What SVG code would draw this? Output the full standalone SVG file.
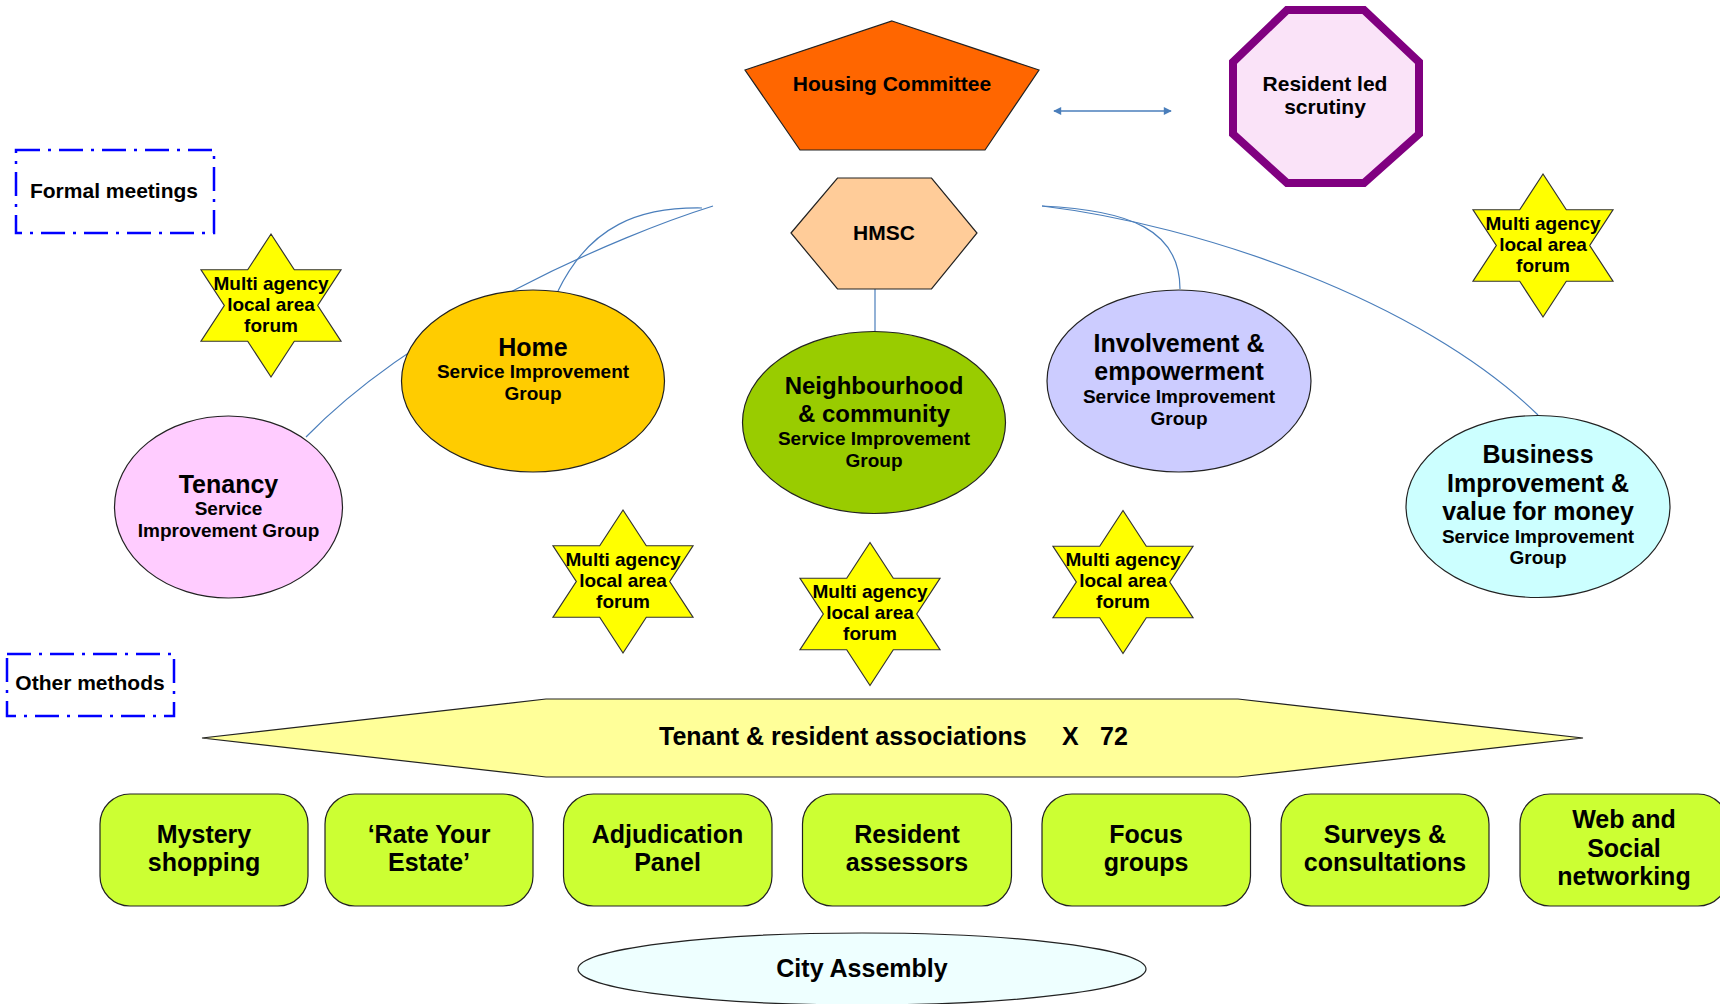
<svg xmlns="http://www.w3.org/2000/svg" xmlns:xlink="http://www.w3.org/1999/xlink" width="1720" height="1004" viewBox="0 0 1720 1004">
<style>
text{font-family:"Liberation Sans",Arial,sans-serif;font-weight:bold;fill:#000;text-anchor:middle}
.h{font-size:25px}
.s{font-size:19px}
.m{font-size:21px}
.b{font-size:25px}
.st{font-size:19px}
.node{stroke:#222;stroke-width:1.2}
.conn{fill:none;stroke:#4a7ebb;stroke-width:1.2}
.legend{fill:none;stroke:#0000ff;stroke-width:2.5;stroke-dasharray:24 8 3 8}
.star{fill:#ffff00;stroke:#333;stroke-width:1.2}
.box{fill:#ccff33;stroke:#222;stroke-width:1.2}
</style>
<defs>
<polygon id="hexagram" points="0,-71.5 23.3,-35.75 70,-35.75 46.7,0 70,35.75 23.3,35.75 0,71.5 -23.3,35.75 -70,35.75 -46.7,0 -70,-35.75 -23.3,-35.75"/>
<marker id="ah" viewBox="0 0 10 10" refX="9" refY="5" markerWidth="9" markerHeight="8" markerUnits="userSpaceOnUse" orient="auto-start-reverse">
<path d="M0,0 L10,5 L0,10 z" fill="#4a7ebb"/>
</marker>
</defs>
<rect width="1720" height="1004" fill="#fff"/>

<g id="connectors">
<path class="conn" d="M713,206 C620,235 420,320 306,437"/>
<path class="conn" d="M702,208 C640,207 590,225 558,291"/>
<path class="conn" d="M875,289 L875,332"/>
<path class="conn" d="M1042,206 C1130,210 1180,230 1180,289"/>
<path class="conn" d="M1042,206 C1200,225 1420,300 1538,415"/>
<path class="conn" style="stroke-width:1.6" d="M1054,111 L1171,111" marker-start="url(#ah)" marker-end="url(#ah)"/>
</g>

<g id="legend-formal">
<rect class="legend" x="16" y="150" width="198" height="83"/>
<text class="m" x="114" y="198">Formal meetings</text>
</g>
<g id="legend-other">
<rect class="legend" x="7" y="654" width="167" height="62"/>
<text class="m" x="90" y="690">Other methods</text>
</g>

<g id="housing-committee">
<polygon class="node" fill="#ff6600" points="892,21 1039,70 985,150 800,150 745,70"/>
<text class="m" x="892" y="91">Housing Committee</text>
</g>

<g id="resident-led-scrutiny">
<polygon fill="#fae3f8" stroke="#800080" stroke-width="8" points="1287,10 1364,10 1419,62 1419,134 1364,183 1287,183 1233,134 1233,62"/>
<text class="m" x="1325" y="91">Resident led</text>
<text class="m" x="1325" y="114">scrutiny</text>
</g>

<g id="hmsc">
<polygon class="node" fill="#ffcc99" points="791,233 837.5,178 931.5,178 977,233 931.5,289 837.5,289"/>
<text class="m" x="884" y="240">HMSC</text>
</g>

<g id="tenancy">
<ellipse class="node" fill="#ffccff" cx="228.5" cy="507" rx="114" ry="91"/>
<text class="h" x="228.5" y="493">Tenancy</text>
<text class="s" x="228.5" y="515">Service</text>
<text class="s" x="228.5" y="537">Improvement Group</text>
</g>

<g id="home">
<ellipse class="node" fill="#ffcc00" cx="533" cy="381" rx="131.5" ry="91"/>
<text class="h" x="533" y="356">Home</text>
<text class="s" x="533" y="378">Service Improvement</text>
<text class="s" x="533" y="400">Group</text>
</g>

<g id="neighbourhood">
<ellipse class="node" fill="#99cc00" cx="874" cy="422.5" rx="131.5" ry="91"/>
<text class="h" style="font-size:24px" x="874" y="394">Neighbourhood</text>
<text class="h" style="font-size:24px" x="874" y="422">&amp; community</text>
<text class="s" x="874" y="445">Service Improvement</text>
<text class="s" x="874" y="467">Group</text>
</g>

<g id="involvement">
<ellipse class="node" fill="#ccccff" cx="1179" cy="381" rx="132" ry="91"/>
<text class="h" x="1179" y="352">Involvement &amp;</text>
<text class="h" x="1179" y="380">empowerment</text>
<text class="s" x="1179" y="403">Service Improvement</text>
<text class="s" x="1179" y="425">Group</text>
</g>

<g id="business">
<ellipse class="node" fill="#ccffff" cx="1538" cy="506.5" rx="132" ry="91"/>
<text class="h" x="1538" y="463">Business</text>
<text class="h" x="1538" y="492">Improvement &amp;</text>
<text class="h" x="1538" y="520">value for money</text>
<text class="s" x="1538" y="543">Service Improvement</text>
<text class="s" x="1538" y="564">Group</text>
</g>

<g id="forum-1">
<use xlink:href="#hexagram" href="#hexagram" class="star" x="271" y="305.5"/>
<text class="st" x="271" y="289.5">Multi agency</text>
<text class="st" x="271" y="310.5">local area</text>
<text class="st" x="271" y="331.5">forum</text>
</g>
<g id="forum-2">
<use xlink:href="#hexagram" href="#hexagram" class="star" x="1543" y="245.5"/>
<text class="st" x="1543" y="229.5">Multi agency</text>
<text class="st" x="1543" y="250.5">local area</text>
<text class="st" x="1543" y="271.5">forum</text>
</g>
<g id="forum-3">
<use xlink:href="#hexagram" href="#hexagram" class="star" x="623" y="581.5"/>
<text class="st" x="623" y="565.5">Multi agency</text>
<text class="st" x="623" y="586.5">local area</text>
<text class="st" x="623" y="607.5">forum</text>
</g>
<g id="forum-4">
<use xlink:href="#hexagram" href="#hexagram" class="star" x="870" y="614"/>
<text class="st" x="870" y="598">Multi agency</text>
<text class="st" x="870" y="619">local area</text>
<text class="st" x="870" y="640">forum</text>
</g>
<g id="forum-5">
<use xlink:href="#hexagram" href="#hexagram" class="star" x="1123" y="582"/>
<text class="st" x="1123" y="566">Multi agency</text>
<text class="st" x="1123" y="587">local area</text>
<text class="st" x="1123" y="608">forum</text>
</g>

<g id="tenant-resident-associations">
<polygon class="node" fill="#ffff99" points="202,738 546,699 1238,699 1583,738 1238,777 546,777"/>
<text class="b" style="text-anchor:start" y="745"><tspan x="659">Tenant &amp; resident associations</tspan><tspan x="1062">X</tspan><tspan x="1100">72</tspan></text>
</g>

<g id="mystery-shopping">
<rect class="box" x="100" y="794" width="208" height="112" rx="30" ry="30"/>
<text class="b" x="204" y="843">Mystery</text>
<text class="b" x="204" y="871">shopping</text>
</g>
<g id="rate-your-estate">
<rect class="box" x="325" y="794" width="208" height="112" rx="30" ry="30"/>
<text class="b" x="429" y="843">‘Rate Your</text>
<text class="b" x="429" y="871">Estate’</text>
</g>
<g id="adjudication-panel">
<rect class="box" x="563.5" y="794" width="208.5" height="112" rx="30" ry="30"/>
<text class="b" x="667.5" y="843">Adjudication</text>
<text class="b" x="667.5" y="871">Panel</text>
</g>
<g id="resident-assessors">
<rect class="box" x="802.5" y="794" width="209" height="112" rx="30" ry="30"/>
<text class="b" x="907" y="843">Resident</text>
<text class="b" x="907" y="871">assessors</text>
</g>
<g id="focus-groups">
<rect class="box" x="1042" y="794" width="208.5" height="112" rx="30" ry="30"/>
<text class="b" x="1146" y="843">Focus</text>
<text class="b" x="1146" y="871">groups</text>
</g>
<g id="surveys-consultations">
<rect class="box" x="1281" y="794" width="208" height="112" rx="30" ry="30"/>
<text class="b" x="1385" y="843">Surveys &amp;</text>
<text class="b" x="1385" y="871">consultations</text>
</g>
<g id="web-social">
<rect class="box" x="1520" y="794" width="208" height="112" rx="30" ry="30"/>
<text class="b" x="1624" y="828">Web and</text>
<text class="b" x="1624" y="857">Social</text>
<text class="b" x="1624" y="885">networking</text>
</g>

<g id="city-assembly">
<ellipse class="node" fill="#eeffff" cx="862" cy="969" rx="284" ry="36"/>
<text class="b" x="862" y="977">City Assembly</text>
</g>
</svg>
